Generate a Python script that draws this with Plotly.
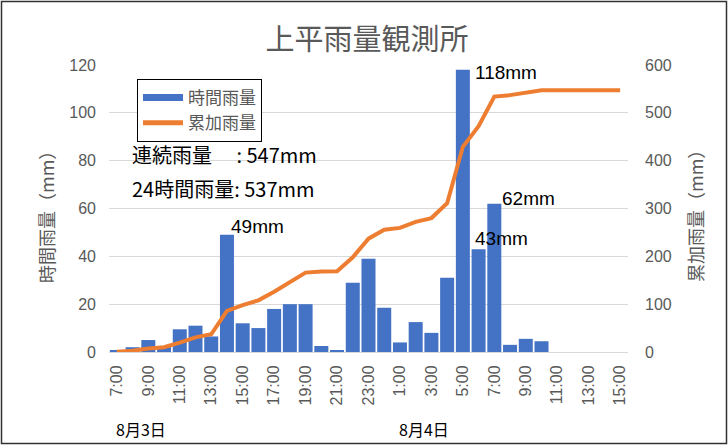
import plotly.graph_objects as go

# ---- data ----
times = ["7:00", "8:00", "9:00", "10:00", "11:00", "12:00", "13:00", "14:00",
         "15:00", "16:00", "17:00", "18:00", "19:00", "20:00", "21:00", "22:00",
         "23:00", "0:00", "1:00", "2:00", "3:00", "4:00", "5:00", "6:00",
         "7:00", "8:00", "9:00", "10:00", "11:00", "12:00", "13:00", "14:00", "15:00"]
hourly = [0.5, 2, 5, 2.5, 9.5, 11, 6.5, 49, 12, 10, 18, 20, 20, 2.5, 0.5, 29,
          39, 18.5, 4, 12.5, 8, 31, 118, 43, 62, 3, 5.5, 4.5, 0, 0, 0, 0, 0]
cumulative = [0.5, 2.5, 7.5, 10, 19.5, 30.5, 37, 86, 98, 108, 126, 146, 166,
              168.5, 169, 198, 237, 255.5, 259.5, 272, 280, 311, 429, 472, 534,
              537, 542.5, 547, 547, 547, 547, 547, 547]
dates = ["8月3日", "8月4日"]
series_names = ["時間雨量", "累加雨量"]
title = "上平雨量観測所"
summary = ["連続雨量　 : 547mm", "24時間雨量: 537mm"]
labelled = [7, 22, 23, 24]

# ---- layout geometry ----
W, H = 728, 445
L, R, T, B = 109, 100, 65, 93
PW, PH = W - L - R, H - T - B

def px(xp):
    return (xp - L) / PW

def py(yp):
    return (H - B - yp) / PH

BLUE = "#4472C4"
ORANGE = "#ED7D31"
GRAY = "#595959"
GRID = "#D9D9D9"
LAT = "Liberation Sans, Noto Sans CJK JP, sans-serif"
CJK = "Noto Sans CJK JP, sans-serif"

idx = list(range(len(times)))

fig = go.Figure()
fig.add_trace(go.Bar(x=idx, y=hourly, marker=dict(color=BLUE, line=dict(width=0)),
                     showlegend=False, yaxis="y"))
fig.add_trace(go.Scatter(x=idx, y=cumulative, mode="lines",
                         line=dict(color=ORANGE, width=4), showlegend=False, yaxis="y2"))
# legend entries
fig.add_trace(go.Scatter(x=[None], y=[None], mode="lines", name=series_names[0],
                         line=dict(color=BLUE, width=7), yaxis="y"))
fig.add_trace(go.Scatter(x=[None], y=[None], mode="lines", name=series_names[1],
                         line=dict(color=ORANGE, width=5), yaxis="y2"))

annotations = []
# bar value labels
shifts = {7: (2, 8), 22: (10, -3), 23: (-6, 11), 24: (6, 5)}
for i in labelled:
    xs, ys = shifts[i]
    annotations.append(dict(x=i, y=hourly[i], xref="x", yref="y",
                            text=f"{hourly[i]:g}mm", showarrow=False,
                            xanchor="left", yanchor="middle", xshift=xs, yshift=ys,
                            font=dict(family=LAT, size=19, color="black")))
# summary text
for txt, yp in zip(summary, [154, 188]):
    annotations.append(dict(x=px(130), y=py(yp), xref="paper", yref="paper",
                            text=txt, showarrow=False, xanchor="left", yanchor="middle",
                            font=dict(family=CJK, size=20, color="black")))
# date labels
for d, xi in zip(dates, [0, 18]):
    annotations.append(dict(x=xi, y=py(429), xref="x", yref="paper", text=d,
                            showarrow=False, xanchor="left", yanchor="middle", xshift=-3,
                            font=dict(family=CJK, size=16, color="black")))
# axis titles
annotations.append(dict(x=px(46), y=py(213), xref="paper", yref="paper",
                        text="時間雨量（mm）", textangle=-90, showarrow=False,
                        xanchor="center", yanchor="middle",
                        font=dict(family=CJK, size=18, color=GRAY)))
annotations.append(dict(x=px(695), y=py(212), xref="paper", yref="paper",
                        text="累加雨量（mm）", textangle=-90, showarrow=False,
                        xanchor="center", yanchor="middle",
                        font=dict(family=CJK, size=18, color=GRAY)))

fig.update_layout(
    width=W, height=H,
    margin=dict(l=L, r=R, t=T, b=B, pad=0),
    paper_bgcolor="white", plot_bgcolor="white",
    bargap=0.11,
    title=dict(text=title, x=367 / W, y=1 - 40 / H, xanchor="center", yanchor="middle",
               font=dict(family=CJK, size=29, color=GRAY)),
    xaxis=dict(range=[-0.5, len(times) - 0.5], tickmode="array",
               tickvals=idx[::2], ticktext=times[::2], tickangle=-90,
               showgrid=False, showline=True, linecolor=GRID, linewidth=1,
               ticks="", ticklabelstandoff=6,
               tickfont=dict(family=LAT, size=16, color=GRAY), zeroline=False),
    yaxis=dict(range=[0, 120], dtick=20, showgrid=True, gridcolor=GRID, gridwidth=1,
               zeroline=False, showline=False, ticks="", ticklabelstandoff=12,
               tickfont=dict(family=LAT, size=16, color=GRAY)),
    yaxis2=dict(range=[0, 600], dtick=100, overlaying="y", side="right",
                showgrid=False, zeroline=False, showline=False, ticks="",
                ticklabelstandoff=16,
                tickfont=dict(family=LAT, size=16, color=GRAY)),
    legend=dict(x=px(137), y=py(79), xanchor="left", yanchor="top",
                bordercolor="black", borderwidth=1, bgcolor="white",
                font=dict(family=CJK, size=17, color=GRAY), tracegroupgap=0,
                itemwidth=40),
    annotations=annotations,
    shapes=[dict(type="rect", xref="paper", yref="paper",
                 x0=px(1.5), x1=px(726.5), y0=py(443.5), y1=py(1.5),
                 line=dict(color="#333333", width=1.5), layer="above")],
)

fig.write_html("out.html", config={"displayModeBar": False},
               post_script="document.body.style.margin='0';document.body.style.overflow='hidden';")
